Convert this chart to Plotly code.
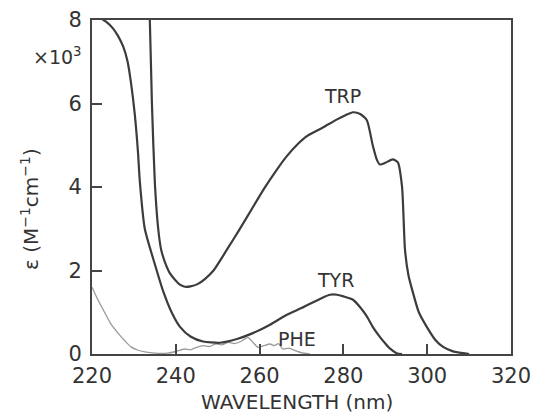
import plotly.graph_objects as go

# Tryptophan
trp_wl = [233.5, 233.8, 234.3, 235.0, 235.8, 236.5, 237.4, 238.5, 239.8, 241.0, 242.2, 243.5,
          245.3, 247.0, 249.0, 252.2, 255.0, 258.0, 261.0, 264.0, 266.5, 269.0, 271.3, 275.0,
          278.5, 280.5, 282.3, 284.0, 285.6, 287.0, 288.0, 288.7, 290.0, 291.8, 293.0, 294.0,
          294.7, 295.5, 296.6, 298.0, 299.9, 302.0, 303.8, 306.0, 308.5, 310.0]
trp_eps = [8.6, 8.0, 6.0, 4.1, 3.0, 2.5, 2.2, 1.95, 1.78, 1.66, 1.61, 1.62,
           1.68, 1.8, 2.0, 2.5, 2.95, 3.45, 3.95, 4.4, 4.74, 5.02, 5.22, 5.42,
           5.62, 5.72, 5.79, 5.75, 5.6, 5.0, 4.65, 4.54, 4.58, 4.66, 4.59, 4.0,
           2.5, 1.9, 1.47, 1.0, 0.65, 0.33, 0.17, 0.07, 0.02, 0.0]

# Tyrosine
tyr_wl = [221.0, 222.0, 223.5, 225.0, 226.2, 227.5, 228.5, 229.3, 230.2, 231.0, 231.4, 232.6,
          235.0, 237.0, 239.0, 241.0, 243.5, 246.5, 250.5, 254.6, 258.4, 262.5, 266.5, 270.0,
          273.0, 275.0, 276.8, 278.5, 280.0, 282.3, 284.0, 285.6, 287.0, 288.7, 290.0, 291.0,
          292.7, 294.0]
tyr_eps = [8.2, 8.05, 7.95, 7.8, 7.62, 7.35, 7.0, 6.5, 5.75, 4.8, 4.15, 3.0,
           2.15, 1.5, 1.0, 0.65, 0.42, 0.3, 0.27, 0.36, 0.5, 0.7, 0.94, 1.1,
           1.25, 1.35, 1.42, 1.42, 1.38, 1.3, 1.12, 0.9, 0.65, 0.41, 0.25, 0.14,
           0.02, 0.0]

# Phenylalanine
phe_wl = [220.0, 221.5, 223.1, 224.5, 226.2, 228.0, 229.3, 231.0, 232.6, 235.0, 238.0, 240.0,
          242.0, 243.5, 245.0, 246.5, 248.0, 249.5, 251.0, 252.5, 254.0, 255.5, 257.2, 258.4,
          259.6, 261.0, 262.5, 263.5, 264.5, 265.5, 267.0, 268.5, 270.0, 272.0]
phe_eps = [1.6, 1.28, 0.98, 0.72, 0.5, 0.3, 0.17, 0.09, 0.05, 0.02, 0.02, 0.06,
           0.12, 0.1, 0.16, 0.2, 0.18, 0.24, 0.22, 0.28, 0.25, 0.3, 0.4, 0.28,
           0.16, 0.2, 0.24, 0.2, 0.25, 0.12, 0.14, 0.08, 0.03, 0.0]

x_ticks = [220, 240, 260, 280, 300, 320]
y_ticks = [0, 2, 4, 6, 8]

labels = ["TRP", "TYR", "PHE"]
label_x = [279.9, 278.0, 269.0]
label_y = [6.18, 1.78, 0.35]

FONT = "DejaVu Sans"
INK = "#333333"

fig = go.Figure()
fig.add_trace(go.Scatter(x=phe_wl, y=phe_eps, mode="lines",
                         line=dict(color="#9a9a9a", width=1.3, shape="spline", smoothing=0.5),
                         showlegend=False))
fig.add_trace(go.Scatter(x=tyr_wl, y=tyr_eps, mode="lines",
                         line=dict(color="#3c3c3c", width=2.2, shape="spline", smoothing=0.6),
                         showlegend=False))
fig.add_trace(go.Scatter(x=trp_wl, y=trp_eps, mode="lines",
                         line=dict(color="#3c3c3c", width=2.2, shape="spline", smoothing=0.6),
                         showlegend=False))

for t, lx, ly in zip(labels, label_x, label_y):
    fig.add_annotation(x=lx, y=ly, text=t, showarrow=False,
                       font=dict(family=FONT, size=19, color=INK),
                       xanchor="center", yanchor="middle")

fig.add_annotation(xref="paper", yref="paper", x=-0.0835, y=0.892,
                   text="×10<sup>3</sup>", showarrow=False,
                   font=dict(family=FONT, size=19, color=INK),
                   xanchor="center", yanchor="middle")
fig.add_annotation(xref="paper", yref="paper", x=-0.148, y=0.434,
                   text="ε (M<sup>−1</sup>cm<sup>−1</sup>)", showarrow=False,
                   textangle=-90,
                   font=dict(family=FONT, size=20, color=INK),
                   xanchor="center", yanchor="middle")
fig.add_annotation(xref="paper", yref="paper", x=0.49, y=-0.143,
                   text="WAVELENGTH (nm)", showarrow=False,
                   font=dict(family=FONT, size=20, color=INK),
                   xanchor="center", yanchor="middle")

fig.update_layout(
    width=534, height=414,
    margin=dict(l=92, r=23, t=20, b=60),
    paper_bgcolor="white", plot_bgcolor="white",
    font=dict(family=FONT, color=INK),
)
fig.update_xaxes(
    range=[220, 320], tickvals=x_ticks, ticktext=[str(v) for v in x_ticks],
    ticks="inside", ticklen=10, tickwidth=2, tickcolor="#444444",
    showline=True, linecolor="#444444", linewidth=2, mirror=True,
    showgrid=False, zeroline=False, automargin=False,
    tickfont=dict(family=FONT, size=21, color=INK), ticklabelstandoff=2,
)
fig.update_yaxes(
    range=[0, 8], tickvals=y_ticks, ticktext=[str(v) for v in y_ticks],
    ticks="inside", ticklen=10, tickwidth=2, tickcolor="#444444",
    showline=True, linecolor="#444444", linewidth=2, mirror=True,
    showgrid=False, zeroline=False, automargin=False,
    tickfont=dict(family=FONT, size=21, color=INK), ticklabelstandoff=4,
)

fig.write_html(
    "out.html",
    config={"displayModeBar": False},
    post_script="document.body.style.margin='0';document.body.style.overflow='hidden';",
)
